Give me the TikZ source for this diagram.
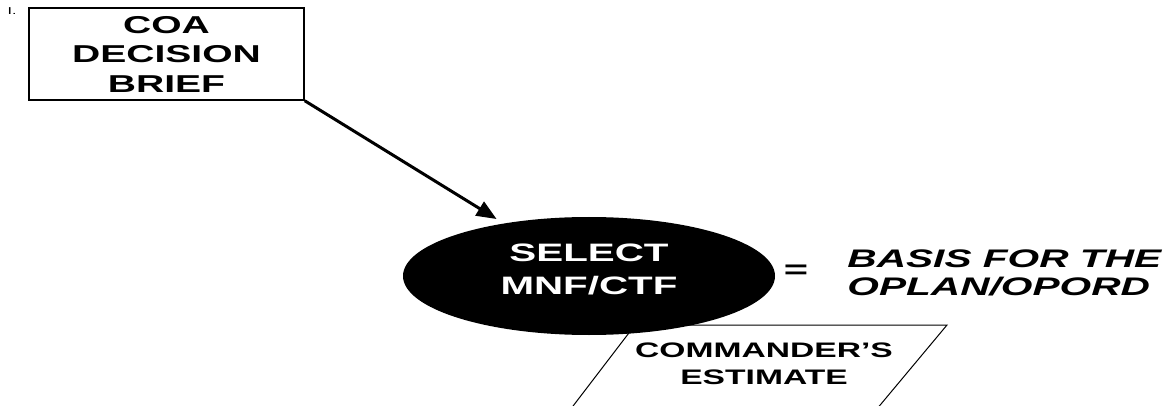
\documentclass[tikz,border=0pt]{standalone}
\usepackage{fontspec}
\setmainfont[FakeStretch=1.6]{Liberation Sans}
\usetikzlibrary{shapes.geometric,arrows.meta}

\begin{document}
\begin{tikzpicture}
          [x=0.5pt,y=-0.5pt,
          font=\bfseries,
          box/.style={shape=rectangle,draw=black,fill=white,line width=0.75pt,minimum width=137.5pt,minimum height=46pt,inner sep=0pt,align=center,font=\bfseries\fontsize{12.2}{14.75}\selectfont},
          oval/.style={shape=ellipse,fill=black,text=white,minimum width=186pt,minimum height=59pt,inner sep=0pt,text depth=7pt,align=center,font=\bfseries\fontsize{12.6}{16.5}\selectfont},
          arc/.style={-{Triangle[length=10pt,width=8pt]},line width=1.5pt,shorten >=4pt},
          edge/.style={line width=0.5pt}]

            \useasboundingbox (0,0) rectangle (1166,406);

            \node (mark) at (12,11) [font=\fontsize{5}{6}\selectfont] {I.};
            \node (brief) [box] at (166.5,54) {COA\\DECISION\\BRIEF};
            \node (select) [oval] at (589,276) {SELECT\\MNF/CTF};
            \node (equals) at (796,272) [font=\bfseries\fontsize{13}{14}\selectfont] {=};
            \node (basis) at (847,272.5) [anchor=west,align=left,inner sep=0pt,font=\bfseries\itshape\fontsize{12.7}{14}\selectfont] {BASIS FOR THE\\OPLAN/OPORD};
            \node (estimate) at (764,364) [align=center,inner sep=0pt,font=\bfseries\fontsize{10.5}{13.5}\selectfont] {COMMANDER'S\\ESTIMATE};

          \coordinate (P1) at (570,410);
          \coordinate (P2) at (635,325);
          \coordinate (P3) at (947,325);
          \coordinate (P4) at (876,410);

          \draw [arc] (brief.south east) to (select);
          \draw [edge] (P1) -- (P2) -- (P3) -- (P4);

        \end{tikzpicture}
\end{document}
